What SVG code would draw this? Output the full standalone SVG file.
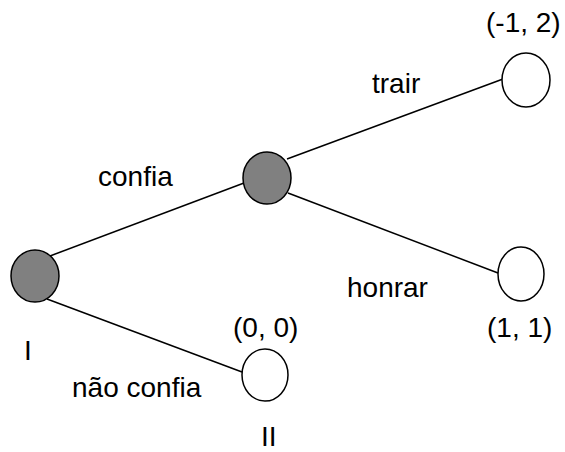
<svg xmlns="http://www.w3.org/2000/svg" width="565" height="452" viewBox="0 0 565 452">
  <style>
    .edge { stroke: #000; stroke-width: 1.5; fill: none; }
    .node { stroke: #000; stroke-width: 1.5; }
    .dec { fill: #808080; }
    .end { fill: #fff; }
    text { font-family: "Liberation Sans", Arial, sans-serif; font-size: 28px; fill: #000; }
  </style>
  <rect width="565" height="452" fill="#fff"/>
  <g id="connectors">
    <line class="edge" x1="50" y1="256" x2="244" y2="183"/>
    <line class="edge" x1="47" y1="299" x2="242" y2="372"/>
    <line class="edge" x1="287" y1="159" x2="503" y2="79"/>
    <line class="edge" x1="288" y1="193" x2="498" y2="273"/>
  </g>
  <g id="edge-labels">
    <text x="98" y="186">confia</text>
    <text x="372" y="93">trair</text>
    <text x="347" y="297">honrar</text>
    <text x="72" y="397">não confia</text>
  </g>
  <g id="node-I">
    <ellipse class="node dec" cx="35" cy="276" rx="24" ry="26"/>
    <text x="24" y="360">I</text>
  </g>
  <g id="node-II">
    <ellipse class="node dec" cx="267" cy="178" rx="24" ry="26"/>
  </g>
  <g id="leaf-trair">
    <ellipse class="node end" cx="526" cy="80" rx="24" ry="27"/>
    <text x="486" y="32">(-1, 2)</text>
  </g>
  <g id="leaf-honrar">
    <ellipse class="node end" cx="521" cy="274" rx="23" ry="27"/>
    <text x="487" y="337">(1, 1)</text>
  </g>
  <g id="leaf-nao-confia">
    <ellipse class="node end" cx="265" cy="375" rx="23" ry="26"/>
    <text x="233" y="337">(0, 0)</text>
    <text x="261" y="446">II</text>
  </g>
</svg>
